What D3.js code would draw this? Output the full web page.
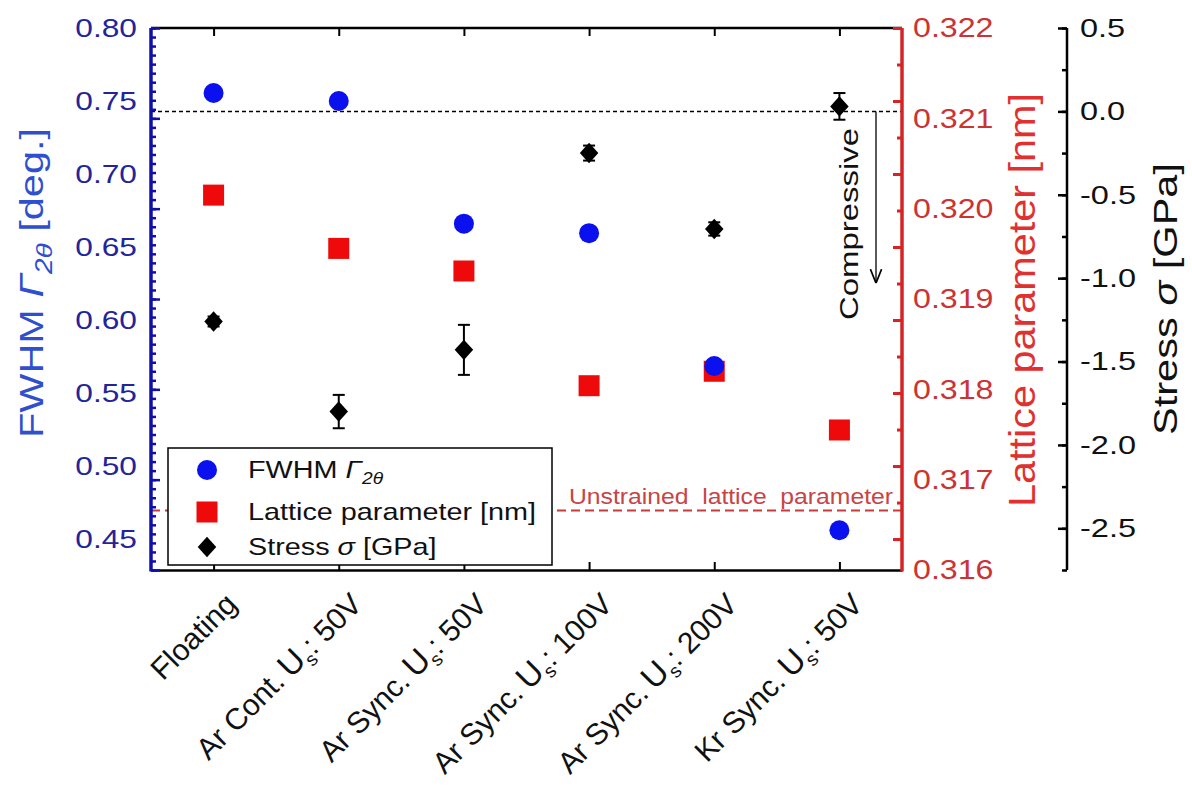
<!DOCTYPE html>
<html>
<head>
<meta charset="utf-8">
<title>FWHM, lattice parameter and stress</title>
<script src="https://d3js.org/d3.v7.min.js"></script>
<style>
  body { margin: 0; background: #fff; overflow: hidden; }
  svg text { font-family: "Liberation Sans", Arial, sans-serif; }
</style>
</head>
<body>
<svg id="chart"></svg>
<script>
// categories (bias conditions)
const categories = ["Floating", "Ar Cont.", "Ar Sync. 50", "Ar Sync. 100", "Ar Sync. 200", "Kr Sync."];
const labelPre = ["", "Ar Cont.\u2009", "Ar Sync.\u2009", "Ar Sync.\u2009", "Ar Sync.\u2009", "Kr Sync.\u2009"];
const labelPost = ["Floating", ": 50V", ": 50V", ": 100V", ": 200V", ": 50V"];

// series values
const fwhm = [0.7555, 0.7500, 0.6660, 0.6595, 0.5685, 0.4560];
const lattice = [0.32015, 0.31956, 0.31931, 0.31804, 0.31820, 0.31755];
const stress = [-1.26, -1.80, -1.43, -0.25, -0.705, 0.03];
const stressErr = [0.03, 0.10, 0.15, 0.045, 0.04, 0.08];
const unstrained = 0.31666;

// tick values
const fwhmTicks = [0.45, 0.50, 0.55, 0.60, 0.65, 0.70, 0.75, 0.80];
const latticeTicks = [0.316, 0.317, 0.318, 0.319, 0.320, 0.321, 0.322];
const stressTicks = [-2.5, -2.0, -1.5, -1.0, -0.5, 0.0, 0.5];

const W = 1192, H = 787;
const pLeft = 151, pRight = 902, pTop = 28, pBottom = 570;
const stressX = 1067;

const svg = d3.select("#chart").attr("width", W).attr("height", H);

const x = d3.scalePoint().domain(categories).range([pLeft, pRight]).padding(0.5);
const yF = d3.scaleLinear().domain([0.4288, 0.80]).range([pBottom, pTop]);
const yL = d3.scaleLinear().domain([0.316, 0.322]).range([pBottom, pTop]);
const yS = d3.scaleLinear().domain([-2.75, 0.5]).range([pBottom, pTop]);

const blue = "#1010a8", blueText = "#24249a", red = "#d42424", redText = "#cc3333";

// the original lettering is wider than Arial: stretch glyphs horizontally
function widen(sel, k) {
  sel.each(function() {
    const t = d3.select(this);
    const x0 = +t.attr("x") || 0;
    t.attr("x", x0 / k).attr("transform", `scale(${k},1)`);
  });
}
// fit a rotated title to a given length
function fit(sel, len) {
  const l = sel.node().getComputedTextLength();
  sel.attr("transform", sel.attr("transform") + ` scale(${len / l},1)`);
}

// top and bottom frame
svg.append("line").attr("x1", pLeft).attr("x2", pRight).attr("y1", pTop).attr("y2", pTop)
  .attr("stroke", "#000").attr("stroke-width", 2.5);
const xb = svg.append("g").attr("transform", `translate(0,${pBottom})`)
  .call(d3.axisTop(x).tickSize(8).tickSizeOuter(0).tickFormat(""));
xb.select(".domain").attr("stroke-width", 2.5);
xb.selectAll(".tick line").attr("stroke-width", 2);
const xt = svg.append("g").attr("transform", `translate(0,${pTop})`)
  .call(d3.axisBottom(x).tickSize(8).tickSizeOuter(0).tickFormat(""));
xt.select(".domain").remove();
xt.selectAll(".tick line").attr("stroke-width", 2);

// x labels, rotated
const xl = svg.append("g").selectAll("text").data(categories).join("text")
  .attr("transform", d => `translate(${x(d) + 25},606) rotate(-45)`)
  .attr("text-anchor", "end")
  .attr("font-size", 30)
  .attr("fill", "#111");
xl.each(function(d, i) {
  const t = d3.select(this);
  if (i === 0) { t.text(labelPost[i]); return; }
  t.append("tspan").text(labelPre[i]);
  t.append("tspan").attr("font-size", 33).text("U");
  t.append("tspan").attr("font-size", 19).attr("dy", 7).text("s");
  t.append("tspan").attr("dy", -7).text(labelPost[i]);
});

// reference lines
svg.append("line").attr("x1", pLeft).attr("x2", pRight)
  .attr("y1", yS(0)).attr("y2", yS(0))
  .attr("stroke", "#000").attr("stroke-width", 1.5).attr("stroke-dasharray", "4,3");
svg.append("line").attr("x1", pLeft).attr("x2", pRight)
  .attr("y1", yL(unstrained)).attr("y2", yL(unstrained))
  .attr("stroke", "#c83a3a").attr("stroke-width", 2).attr("stroke-dasharray", "9,5");
svg.append("text").attr("x", 893).attr("y", 504).attr("text-anchor", "end")
  .attr("font-size", 22).attr("fill", "#c84444").attr("word-spacing", 6)
  .attr("textLength", 324).attr("lengthAdjust", "spacingAndGlyphs")
  .text("Unstrained  lattice  parameter");

// compressive arrow
svg.append("defs").append("marker").attr("id", "arr")
  .attr("viewBox", "0 0 10 10").attr("refX", 10).attr("refY", 5)
  .attr("markerWidth", 14).attr("markerHeight", 14).attr("orient", "auto")
  .attr("markerUnits", "userSpaceOnUse")
  .append("path").attr("d", "M0,1 L10,5 L0,9").attr("fill", "none").attr("stroke", "#000").attr("stroke-width", 1.2);
svg.append("line").attr("x1", 876).attr("x2", 876).attr("y1", yS(0)).attr("y2", yS(-1.03))
  .attr("stroke", "#000").attr("stroke-width", 1.3).attr("marker-end", "url(#arr)");
svg.append("text").attr("transform", `translate(849,224) rotate(-90)`)
  .attr("text-anchor", "middle").attr("dy", "0.35em").attr("font-size", 25).attr("fill", "#111")
  .text("Compressive")
  .call(fit, 192);

// left (blue) axis: labels on FWHM scale, ticks drawn as on the original
const la = svg.append("g").attr("transform", `translate(${pLeft},0)`);
la.append("g").call(d3.axisRight(yL).tickValues(d3.range(0, 61).map(i => 0.316 + i * 0.0001)).tickSize(5).tickSizeOuter(0).tickFormat(""))
  .call(g => g.select(".domain").remove());
la.append("g").call(d3.axisRight(yL).tickValues(latticeTicks).tickSize(9).tickSizeOuter(0).tickFormat(""))
  .call(g => g.select(".domain").remove());
la.selectAll(".tick line").attr("stroke", blue).attr("stroke-width", 2.5);
la.append("g").call(d3.axisLeft(yF).tickValues(fwhmTicks).tickSize(0).tickPadding(14).tickFormat(d3.format(".2f")))
  .call(g => g.select(".domain").remove())
  .selectAll("text").attr("font-size", 26).attr("fill", blueText).call(widen, 1.22);
la.append("line").attr("y1", pTop).attr("y2", pBottom + 1.5).attr("stroke", blue).attr("stroke-width", 3.5);

// right (red) axis
const ra = svg.append("g").attr("transform", `translate(${pRight},0)`);
ra.append("g").call(d3.axisLeft(yF).tickValues(d3.range(0, 16).map(i => 0.45 + i * 0.025)).tickSize(5).tickSizeOuter(0).tickFormat(""))
  .call(g => g.select(".domain").remove());
ra.append("g").call(d3.axisLeft(yF).tickValues(fwhmTicks).tickSize(9).tickSizeOuter(0).tickFormat(""))
  .call(g => g.select(".domain").remove());
ra.selectAll(".tick line").attr("stroke", red).attr("stroke-width", 3);
ra.append("g").call(d3.axisRight(yL).tickValues(latticeTicks).tickSize(0).tickPadding(11).tickFormat(d3.format(".3f")))
  .call(g => g.select(".domain").remove())
  .selectAll("text").attr("font-size", 28).attr("fill", redText).call(widen, 1.15);
ra.append("line").attr("y1", pTop).attr("y2", pBottom + 1.5).attr("stroke", red).attr("stroke-width", 3.5);

// stress axis
const sa = svg.append("g").attr("transform", `translate(${stressX},0)`);
sa.append("g").call(d3.axisRight(yS).tickValues(d3.range(0, 14).map(i => -2.75 + i * 0.25)).tickSizeInner(-5).tickSizeOuter(0).tickFormat(""))
  .call(g => g.select(".domain").remove());
sa.append("g").call(d3.axisRight(yS).tickValues(stressTicks).tickSizeInner(-9).tickSizeOuter(0).tickPadding(13).tickFormat(d => d.toFixed(1)))
  .call(g => g.select(".domain").remove())
  .selectAll("text").attr("font-size", 26).attr("fill", "#111").call(widen, 1.25);
sa.selectAll(".tick line").attr("stroke", "#000").attr("stroke-width", 2.5);
sa.append("line").attr("y1", pTop).attr("y2", pBottom).attr("stroke", "#000").attr("stroke-width", 2.5);

// axis titles
const t1 = svg.append("text").attr("transform", "translate(31,283) rotate(-90)")
  .attr("text-anchor", "middle").attr("dy", "0.35em").attr("font-size", 34).attr("fill", "#2f4fcf");
t1.append("tspan").text("FWHM ");
t1.append("tspan").attr("font-style", "italic").text("Γ");
t1.append("tspan").attr("font-style", "italic").attr("font-size", 23).attr("dy", 9).text("2θ");
t1.append("tspan").attr("dy", -9).text(" [deg.]");
t1.call(fit, 310);

svg.append("text").attr("transform", "translate(1022,300) rotate(-90)")
  .attr("text-anchor", "middle").attr("dy", "0.35em").attr("font-size", 37).attr("fill", "#e03030")
  .text("Lattice parameter [nm]")
  .call(fit, 414);

const t3 = svg.append("text").attr("transform", "translate(1165,299) rotate(-90)")
  .attr("text-anchor", "middle").attr("dy", "0.35em").attr("font-size", 33).attr("fill", "#111");
t3.append("tspan").text("Stress ");
t3.append("tspan").attr("font-style", "italic").text("σ");
t3.append("tspan").text(" [GPa]");
t3.call(fit, 272);

// data marks
const diamond = d3.symbol().type(d3.symbolSquare).size(190);

svg.append("g").selectAll("rect").data(lattice).join("rect")
  .attr("x", (d, i) => x(categories[i]) - 10.5).attr("y", d => yL(d) - 10.5)
  .attr("width", 21).attr("height", 21).attr("fill", "#ee0a0a");

svg.append("g").selectAll("circle").data(fwhm).join("circle")
  .attr("cx", (d, i) => x(categories[i])).attr("cy", d => yF(d))
  .attr("r", 10).attr("fill", "#0a10ee");

const eb = svg.append("g").selectAll("g").data(stress).join("g")
  .attr("stroke", "#000").attr("stroke-width", 2);
eb.append("line").attr("x1", (d, i) => x(categories[i])).attr("x2", (d, i) => x(categories[i]))
  .attr("y1", (d, i) => yS(d + stressErr[i])).attr("y2", (d, i) => yS(d - stressErr[i]));
eb.append("line").attr("x1", (d, i) => x(categories[i]) - 6).attr("x2", (d, i) => x(categories[i]) + 6)
  .attr("y1", (d, i) => yS(d + stressErr[i])).attr("y2", (d, i) => yS(d + stressErr[i]));
eb.append("line").attr("x1", (d, i) => x(categories[i]) - 6).attr("x2", (d, i) => x(categories[i]) + 6)
  .attr("y1", (d, i) => yS(d - stressErr[i])).attr("y2", (d, i) => yS(d - stressErr[i]));

svg.append("g").selectAll("path").data(stress).join("path")
  .attr("transform", (d, i) => `translate(${x(categories[i])},${yS(d)}) scale(0.95,1.05) rotate(45)`)
  .attr("d", diamond).attr("fill", "#000");

// legend
const lg = svg.append("g");
lg.append("rect").attr("x", 168).attr("y", 448).attr("width", 384).attr("height", 117)
  .attr("fill", "#fff").attr("stroke", "#000").attr("stroke-width", 1.5);
lg.append("circle").attr("cx", 207).attr("cy", 470).attr("r", 10).attr("fill", "#0a10ee");
lg.append("rect").attr("x", 196.5).attr("y", 501.5).attr("width", 21).attr("height", 21).attr("fill", "#ee0a0a");
lg.append("path").attr("transform", "translate(207,547) scale(0.95,1.05) rotate(45)").attr("d", diamond).attr("fill", "#000");
const l1 = lg.append("text").attr("transform", "translate(248,478) scale(1.2,1)").attr("font-size", 24).attr("fill", "#111");
l1.append("tspan").text("FWHM ");
l1.append("tspan").attr("font-style", "italic").text("Γ");
l1.append("tspan").attr("font-style", "italic").attr("font-size", 16).attr("dy", 6).text("2θ");
lg.append("text").attr("transform", "translate(248,520) scale(1.2,1)").attr("font-size", 24).attr("fill", "#111")
  .text("Lattice parameter [nm]");
const l3 = lg.append("text").attr("transform", "translate(248,555) scale(1.2,1)").attr("font-size", 24).attr("fill", "#111");
l3.append("tspan").text("Stress ");
l3.append("tspan").attr("font-style", "italic").text("σ");
l3.append("tspan").text(" [GPa]");
</script>
</body>
</html>
